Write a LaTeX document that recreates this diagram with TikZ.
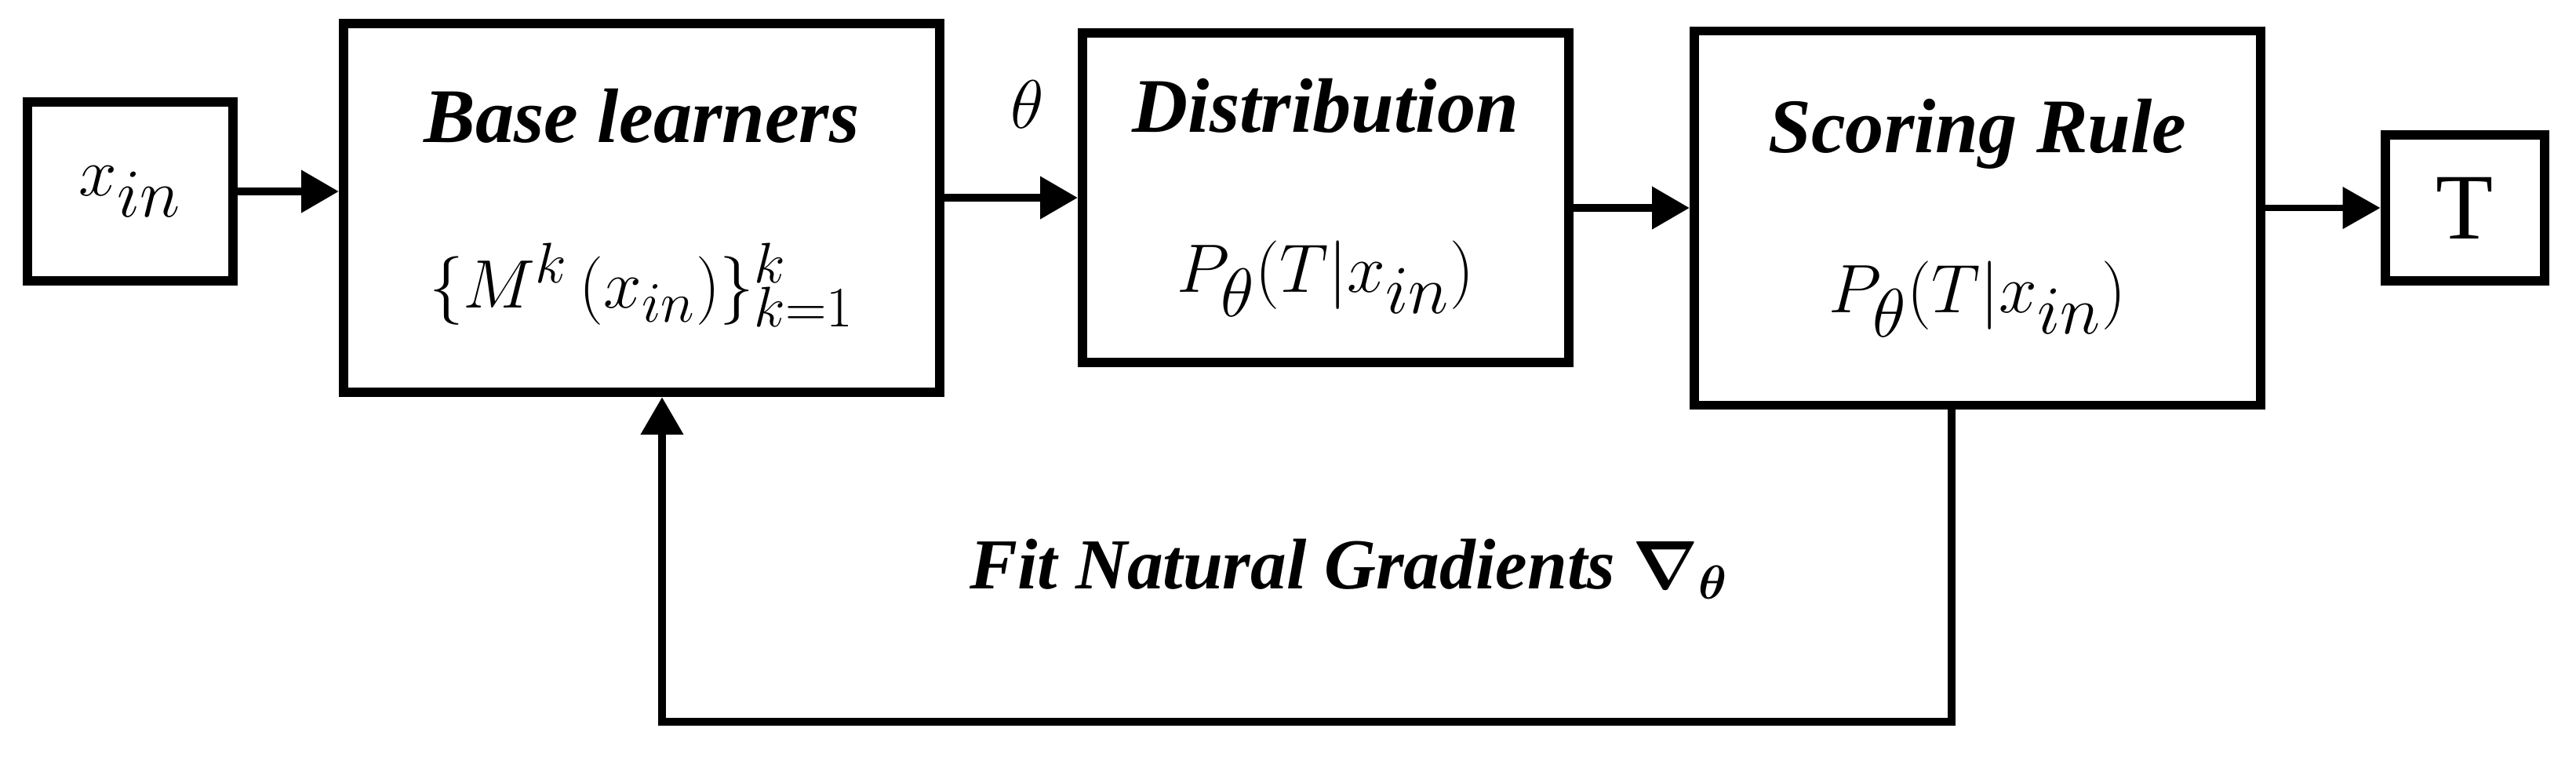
\documentclass[tikz,border=0pt]{standalone}
\usepackage{fontspec}
\setmainfont{Liberation Serif}
\usepackage{bm}
\usetikzlibrary{arrows.meta,positioning}

\tikzset{
  blk/.style={draw, line width=3.4pt, rectangle, inner sep=0pt, align=center, font=\fontsize{28}{34}\selectfont},
  conn/.style={line width=3pt, -{Triangle[length=4.8mm,width=5.2mm]}},
}
\newcommand{\ttl}[1]{\textbf{\textit{#1}}}
\newcommand{\mth}[1]{{\fontsize{34}{40}\selectfont$#1$}}

\begin{document}
\begin{tikzpicture}
        \useasboundingbox (0,0) rectangle (32.84,-9.69);
        % blocks
        \node[blk, minimum width=2.62cm, minimum height=2.28cm] (xin) at (1.66,-2.44) {\mth{x_{in}}};
        \node[blk, minimum width=7.60cm, minimum height=4.70cm] (base) at (8.18,-2.65) {\ttl{Base learners}\\[26pt] {\fontsize{32}{38}\selectfont$\{M^{k}\,(x_{in})\}_{k=1}^{k}$}};
        \node[blk, minimum width=6.20cm, minimum height=4.20cm] (dist) at (16.90,-2.52) {\ttl{Distribution}\\[24pt] \mth{P_{\theta}(T|x_{in})}};
        \node[blk, minimum width=7.22cm, minimum height=4.77cm] (scor) at (25.21,-2.78) {\ttl{Scoring Rule}\\[24pt] \mth{P_{\theta}(T|x_{in})}};
        \node[blk, minimum width=2.03cm, minimum height=1.86cm] (tout) at (31.42,-2.65) {\mth{\mathrm{T}}};
        % forward arrows
        \draw[conn] (xin.east) -- (xin.east -| base.west);
        \draw[conn] (dist.west -| base.east) -- node[pos=0.62, above=0.72cm] (theta) {\mth{\theta}} (dist.west);
        \draw[conn] (tout.west -| dist.east) -- (tout.west -| scor.west);
        \draw[conn, line width=2.2pt] (tout.west -| scor.east) -- (tout.west);
        % feedback loop
        \coordinate (fbr) at (24.88,-9.20);
        \coordinate (fbl) at (8.44,-9.20);
        \draw[conn] (scor.south -| fbr) -- (fbr) -- (fbl) -- (base.south -| fbl);
        \node[font=\fontsize{26}{32}\selectfont] (grad) at (17.20,-7.25) {\ttl{Fit Natural Gradients} $\bm{\nabla}_{\bm{\theta}}$};
\end{tikzpicture}
\end{document}
